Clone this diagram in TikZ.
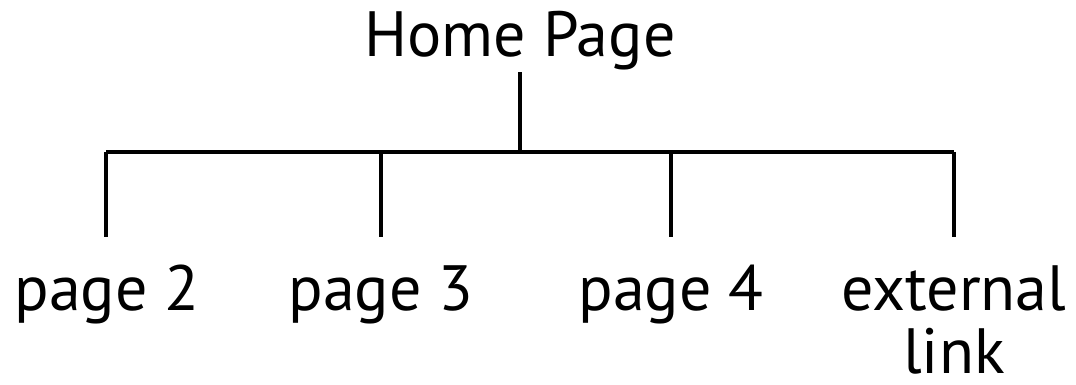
\documentclass[tikz,border=0pt]{standalone}
\usepackage{fontspec}
\setmainfont{PT Sans}
\begin{document}
\begin{tikzpicture}[x=1pt,y=1pt,
  lbl/.style={inner sep=0pt,anchor=base,font=\fontsize{64}{63}\selectfont,align=center},
  conn/.style={line width=3.2pt}]
\useasboundingbox (0,0) rectangle (1076,384);
\node[lbl] (home) at (520,328) {Home Page};
\node[lbl] (p2) at (107,74) {page 2};
\node[lbl] (p3) at (381,74) {page 3};
\node[lbl] (p4) at (671,74) {page 4};
\node[lbl] (ext) at (954,11) {external\\link};
\coordinate (top) at (520,312);
\coordinate (bar) at (520,232);
\coordinate (d2) at (106,147);
\coordinate (d3) at (381,147);
\coordinate (d4) at (671,147);
\coordinate (d5) at (954,147);
\draw[conn] (top) -- (bar);
\draw[conn] (d2|-bar) -- (d5|-bar);
\draw[conn] (d2|-bar) -- (d2);
\draw[conn] (d3|-bar) -- (d3);
\draw[conn] (d4|-bar) -- (d4);
\draw[conn] (d5|-bar) -- (d5);
\end{tikzpicture}
\end{document}
